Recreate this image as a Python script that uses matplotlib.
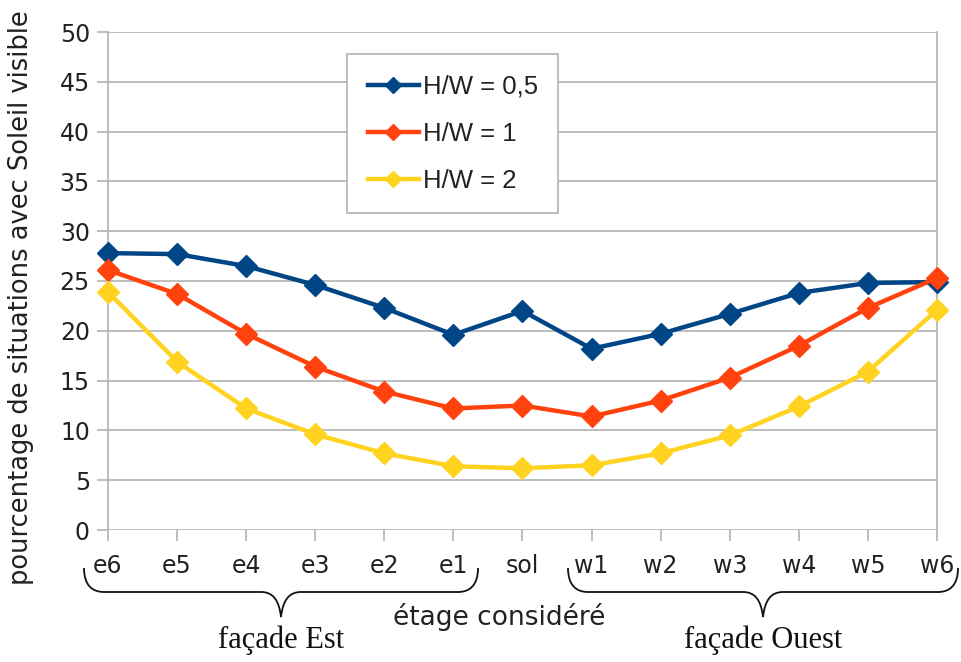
import matplotlib
matplotlib.use("Agg")
import matplotlib.pyplot as plt
from matplotlib.path import Path
from matplotlib.patches import PathPatch
from matplotlib.transforms import Affine2D

categories = ["e6", "e5", "e4", "e3", "e2", "e1", "sol", "w1", "w2", "w3", "w4", "w5", "w6"]
hw_05 = [27.8, 27.7, 26.5, 24.6, 22.3, 19.6, 22.0, 18.2, 19.7, 21.7, 23.8, 24.8, 24.9]
hw_1 = [26.1, 23.7, 19.7, 16.4, 13.9, 12.2, 12.5, 11.4, 13.0, 15.3, 18.5, 22.3, 25.3]
hw_2 = [23.9, 16.9, 12.2, 9.6, 7.7, 6.4, 6.2, 6.5, 7.7, 9.5, 12.4, 15.9, 22.1]
series_labels = ["H/W = 0,5", "H/W = 1", "H/W = 2"]
colors = ["#004586", "#ff420e", "#ffd320"]
yticks = [0, 5, 10, 15, 20, 25, 30, 35, 40, 45, 50]

W, H = 962, 662
plt.rcParams["font.family"] = ["DejaVu Sans"]
fig = plt.figure(figsize=(W / 100, H / 100), dpi=100)
ax = fig.add_axes([108 / W, 1 - 530 / H, (937 - 108) / W, (530 - 32) / H])

x = list(range(len(categories)))
for vals, lab, c in zip([hw_05, hw_1, hw_2], series_labels, colors):
    ax.plot(x, vals, color=c, lw=3.2, marker="D", markersize=11.5,
            markeredgecolor=c, label=lab, clip_on=False, zorder=3)

grid_c = "#b3b3b3"
txt_c = "#222222"
ax.set_xlim(0, len(categories) - 1)
ax.set_ylim(0, 50)
ax.set_yticks(yticks)
ax.set_xticks(x)
ax.set_xticklabels(categories)
ax.yaxis.grid(True, color=grid_c, lw=1.2)
ax.set_axisbelow(True)
for s in ["top", "bottom"]:
    ax.spines[s].set_visible(False)
for s in ["left", "right"]:
    ax.spines[s].set_color(grid_c)
    ax.spines[s].set_linewidth(1.2)
ax.tick_params(axis="both", colors=grid_c, length=8, width=1.2, labelsize=17,
               labelcolor=txt_c)
ax.tick_params(axis="x", pad=9)
ax.tick_params(axis="y", pad=5)
ax.set_ylabel("pourcentage de situations avec Soleil visible", fontsize=18.5,
              color=txt_c)
ax.yaxis.set_label_coords(-0.089, 0.467)

leg = ax.legend(loc="upper left", bbox_to_anchor=(347 / W, 1 - 54 / H),
                bbox_transform=fig.transFigure, fancybox=False, framealpha=1,
                edgecolor=grid_c, handlelength=2.0, handletextpad=0.15,
                labelspacing=0.9, borderpad=0.8, borderaxespad=0,
                markerscale=0.75,
                prop={"family": "Liberation Sans", "size": 18.5})
leg.get_frame().set_linewidth(1.2)
for t in leg.get_texts():
    t.set_color(txt_c)

# pixel transform (top-left origin)
pix = Affine2D().scale(1 / W, -1 / H).translate(0, 1) + fig.transFigure


def brace(x0, x1, ytop=568, ymid=592, ytip=617):
    xm = (x0 + x1) / 2
    verts = [(x0, ytop), (x0, ytop + 17), (x0 + 8, ymid), (x0 + 20, ymid),
             (xm - 20, ymid),
             (xm - 8, ymid), (xm - 2, ymid + 8), (xm, ytip),
             (xm + 2, ymid + 8), (xm + 8, ymid), (xm + 20, ymid),
             (x1 - 20, ymid),
             (x1 - 8, ymid), (x1, ytop + 17), (x1, ytop)]
    codes = [Path.MOVETO, Path.CURVE4, Path.CURVE4, Path.CURVE4,
             Path.LINETO,
             Path.CURVE4, Path.CURVE4, Path.CURVE4,
             Path.CURVE4, Path.CURVE4, Path.CURVE4,
             Path.LINETO,
             Path.CURVE4, Path.CURVE4, Path.CURVE4]
    p = PathPatch(Path(verts, codes), transform=pix, fill=False, lw=1.3,
                  edgecolor="#111111")
    fig.add_artist(p)
    return xm


xm1 = brace(84, 478)
xm2 = brace(568, 958)
fig.text(xm1 / W, 1 - 640 / H, "façade Est", family=["Liberation Serif"],
         fontsize=22, ha="center", va="center", color="#111111")
fig.text(xm2 / W, 1 - 640 / H, "façade Ouest", family=["Liberation Serif"],
         fontsize=22, ha="center", va="center", color="#111111")
fig.text(499 / W, 1 - 617 / H, "étage considéré", fontsize=19,
         ha="center", va="center", color=txt_c)

fig.savefig("out.png", dpi=100)
